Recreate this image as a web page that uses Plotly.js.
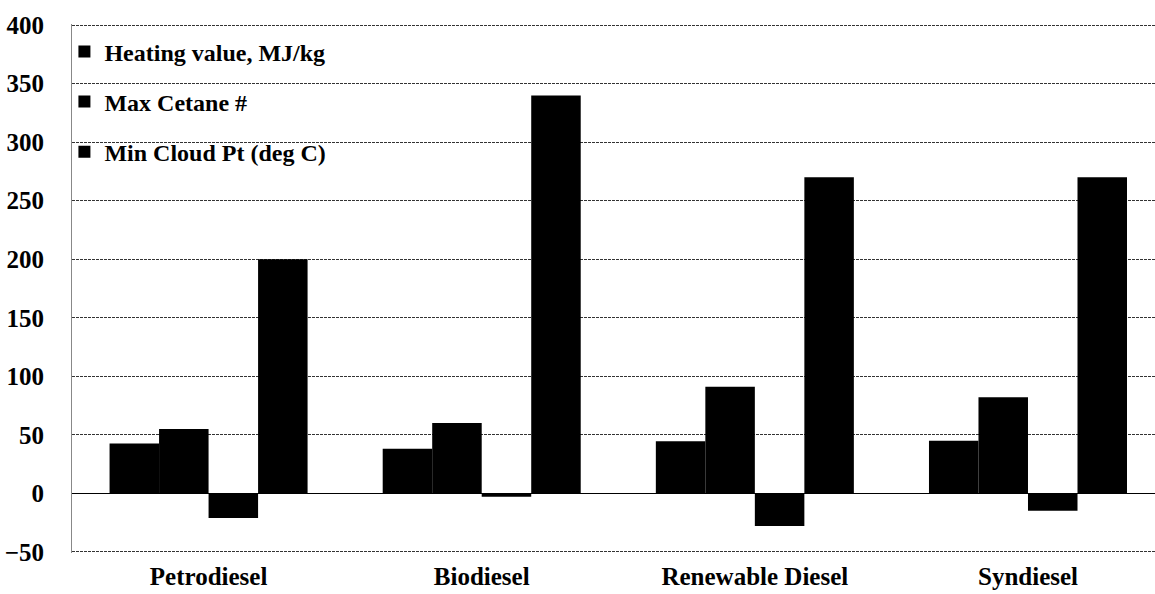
<!DOCTYPE html>
<html><head><meta charset="utf-8">
<script src="https://cdn.plot.ly/plotly-3.0.1.min.js"></script>
<style>html,body{margin:0;padding:0;background:#fff}#chart{width:1155px;height:594px}</style>
</head><body><div id="chart"></div>
<script>
const categories = ["Petrodiesel", "Biodiesel", "Renewable Diesel", "Syndiesel"];
const heatingValue = [42.5, 38, 44.5, 45];
const maxCetane = [55, 60, 91, 82];
const minCloudPt = [-21, -3, -28, -15];
const fourthSeries = [200, 340, 270, 270];
const yTicks = [-50, 0, 50, 100, 150, 200, 250, 300, 350, 400];

const fam = "'Liberation Serif', 'Times New Roman', serif";
function bar(name, y, show, group) {
  return {type: "bar", name: name, x: categories, y: y, showlegend: show, legendgroup: group,
    marker: {color: "#000", line: {width: 0}}};
}
const data = [
  bar("Heating value, MJ/kg", heatingValue, true, "a"),
  bar("Max Cetane #", maxCetane, true, "b"),
  bar("Min Cloud Pt (deg C)", minCloudPt, true, "c"),
  bar("Max Distillation T (deg C)", fourthSeries, false, "d")
];
const layout = {
  width: 1155, height: 594,
  margin: {l: 72, r: 0, t: 24, b: 41},
  paper_bgcolor: "#fff", plot_bgcolor: "#fff",
  barmode: "group", bargap: 0.275, bargroupgap: 0,
  font: {family: fam, color: "#000", weight: "bold"},
  xaxis: {type: "category", range: [-0.5, 3.465], showgrid: false, zeroline: false,
    showline: false, ticks: "", tickfont: {size: 25, family: fam, color: "#000", weight: "bold"},
    ticklabelstandoff: 6, fixedrange: true},
  yaxis: {range: [-51, 401], tickvals: yTicks,
    tickfont: {size: 25, family: fam, color: "#000", weight: "bold"},
    showgrid: true, gridcolor: "#333", griddash: "3px,1px", gridwidth: 1,
    zeroline: true, zerolinecolor: "#000", zerolinewidth: 1.5,
    showline: true, linecolor: "#888", linewidth: 1, ticks: "", ticklabelstandoff: 22},
  legend: {x: -0.007, xanchor: "left", y: 0.99, yanchor: "top", bgcolor: "rgba(255,255,255,0)",
    font: {size: 24, family: fam, color: "#000", weight: "bold"}, tracegroupgap: 16,
    itemwidth: 30, traceorder: "grouped"},
  showlegend: true
};
Plotly.newPlot("chart", data, layout, {displayModeBar: false, staticPlot: true});
</script>
</body></html>
